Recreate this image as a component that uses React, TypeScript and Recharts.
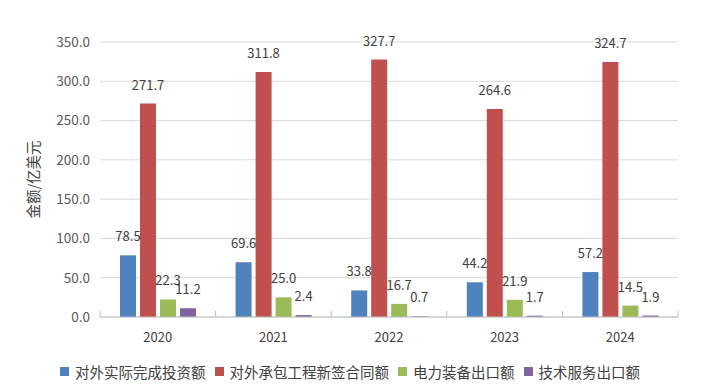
import React from 'react';
import {
  BarChart,
  Bar,
  XAxis,
  YAxis,
  CartesianGrid,
  LabelList,
  Legend,
  Label,
} from 'recharts';

const years = ['2020', '2021', '2022', '2023', '2024'];
const investment = [78.5, 69.6, 33.8, 44.2, 57.2];
const contracts = [271.7, 311.8, 327.7, 264.6, 324.7];
const equipment = [22.3, 25.0, 16.7, 21.9, 14.5];
const services = [11.2, 2.4, 0.7, 1.7, 1.9];
const yTicks = [0, 50, 100, 150, 200, 250, 300, 350];

const SERIES = [
  { key: 'investment', name: '对外实际完成投资额', color: '#4F81BD' },
  { key: 'contracts', name: '对外承包工程新签合同额', color: '#C0504D' },
  { key: 'equipment', name: '电力装备出口额', color: '#9BBB59' },
  { key: 'services', name: '技术服务出口额', color: '#8064A2' },
];

const data = years.map((year, i) => ({
  year,
  investment: investment[i],
  contracts: contracts[i],
  equipment: equipment[i],
  services: services[i],
}));

const WIDTH = 720;
const HEIGHT = 392;
const MARGIN = { top: 42, right: 42, left: 0, bottom: 11 };
const Y_AXIS_W = 100;
const BAND = (WIDTH - MARGIN.left - MARGIN.right - Y_AXIS_W) / years.length;
const FONT = '"Noto Sans CJK SC", "Noto Sans", sans-serif';

const XTick = (props: any) => {
  const { x, y, payload, index } = props;
  return (
    <g>
      <line x1={x - BAND / 2} x2={x - BAND / 2} y1={y - 6} y2={y} stroke="#bfbfbf" />
      {index === years.length - 1 && (
        <line x1={x + BAND / 2} x2={x + BAND / 2} y1={y - 6} y2={y} stroke="#bfbfbf" />
      )}
      <text x={x} y={y + 25} textAnchor="middle" fontSize={13} fill="#404040">
        {payload.value}
      </text>
    </g>
  );
};

// keep legend in series order (recharts sorts by name otherwise)
const LegendContent = (props: any) => {
  const payload = [...(props.payload || [])].sort(
    (a: any, b: any) =>
      SERIES.findIndex((s) => s.name === a.value) - SERIES.findIndex((s) => s.name === b.value)
  );
  return (
    <div
      style={{
        display: 'flex',
        alignItems: 'center',
        height: 20,
        paddingLeft: 60,
        fontSize: 14.5,
        color: '#404040',
        fontFamily: FONT,
        whiteSpace: 'nowrap',
      }}
    >
      {payload.map((entry: any) => (
        <div key={entry.value} style={{ display: 'flex', alignItems: 'center', marginRight: 9 }}>
          <span style={{ width: 9, height: 9, background: entry.color, marginRight: 6 }} />
          <span>{entry.value}</span>
        </div>
      ))}
    </div>
  );
};

const App: React.FC = () => {
  return (
    <div style={{ position: 'absolute', left: 0, top: 0, width: WIDTH, height: HEIGHT, background: '#fff', fontFamily: FONT }}>
      <BarChart width={WIDTH} height={HEIGHT} data={data} margin={MARGIN} barSize={16} barGap={4}>
        <CartesianGrid vertical={false} stroke="#d9d9d9" />
        <XAxis
          dataKey="year"
          axisLine={{ stroke: '#bfbfbf' }}
          tickLine={false}
          tickSize={0}
          tickMargin={0}
          height={44}
          tick={<XTick />}
          interval={0}
        />
        <YAxis
          width={Y_AXIS_W}
          domain={[0, 350]}
          ticks={yTicks}
          axisLine={false}
          tickLine={false}
          tickSize={0}
          tickMargin={10}
          tickFormatter={(v: number) => v.toFixed(1)}
          tick={{ fontSize: 13.5, fill: '#595959' }}
        >
          <Label
            content={(p: any) => {
              const vb = p.viewBox;
              const cx = vb.x + 32;
              const cy = vb.y + vb.height / 2;
              return (
                <text
                  x={cx}
                  y={cy}
                  transform={`rotate(-90 ${cx} ${cy})`}
                  textAnchor="middle"
                  dominantBaseline="central"
                  fontSize={14.5}
                  fill="#404040"
                >
                  金额/亿美元
                </text>
              );
            }}
          />
        </YAxis>
        <Legend verticalAlign="bottom" height={20} content={<LegendContent />} />
        {SERIES.map((s) => (
          <Bar key={s.key} dataKey={s.key} name={s.name} fill={s.color} isAnimationActive={false}>
            <LabelList
              dataKey={s.key}
              position="top"
              offset={14}
              fontSize={13}
              fill="#404040"
              formatter={(v: any) => Number(v).toFixed(1)}
            />
          </Bar>
        ))}
      </BarChart>
    </div>
  );
};

export default App;
